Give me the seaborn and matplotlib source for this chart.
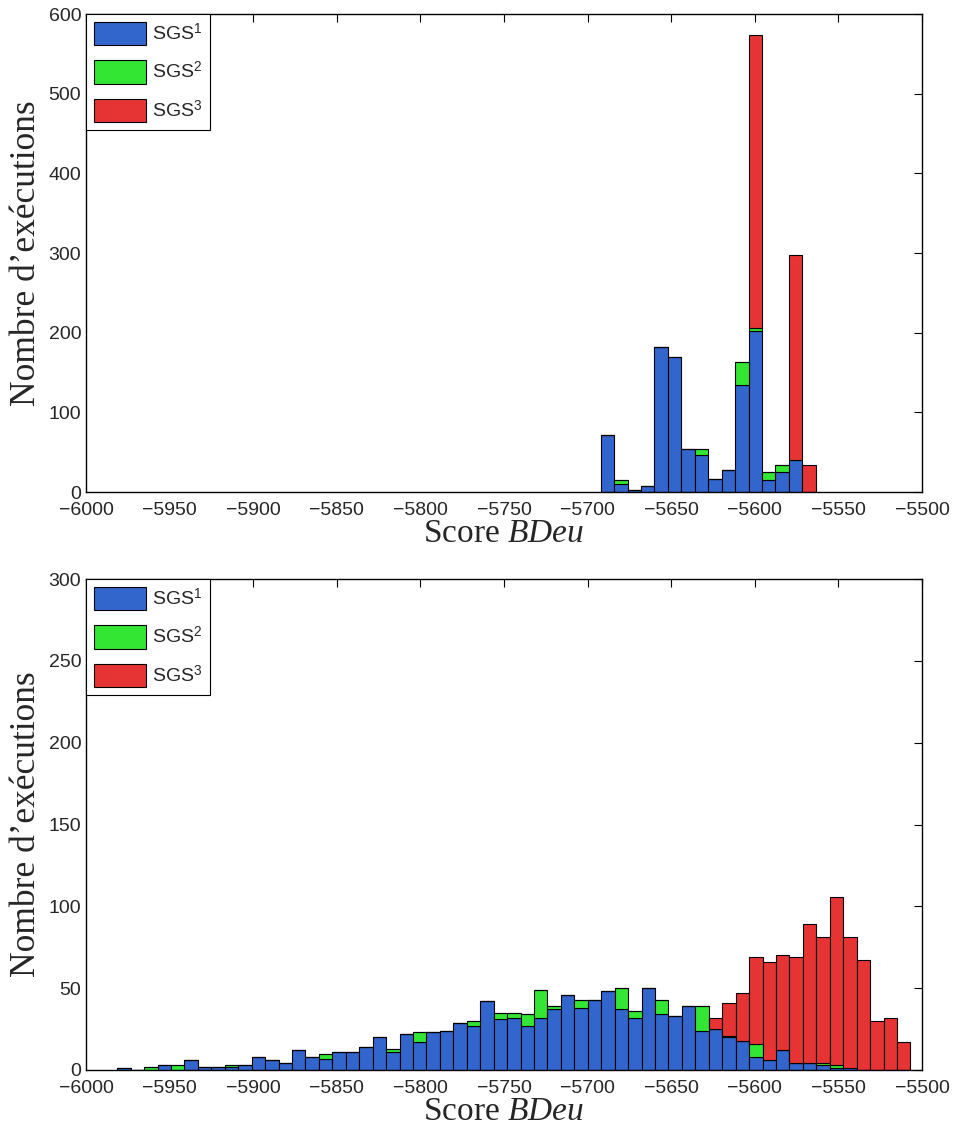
import matplotlib
matplotlib.use("Agg")
import matplotlib.pyplot as plt
from matplotlib.patches import Patch
import seaborn as sns
import pandas as pd

# ---- data ----
series = ["SGS$^1$", "SGS$^2$", "SGS$^3$"]
colors = ["#3366cc", "#33e633", "#e63333"]

# top panel: 16 bins of width ~8.04
top_centers = [-5688.2, -5680.2, -5672.2, -5664.1, -5656.1, -5648.0, -5640.0, -5632.0,
               -5623.9, -5615.9, -5607.8, -5599.8, -5591.8, -5583.7, -5575.7, -5567.6]
top_sgs1 = [71, 10, 3, 8, 182, 170, 54, 47, 16, 27, 134, 202, 15, 25, 40, 0]
top_sgs2 = [0, 5, 0, 0, 0, 0, 0, 7, 0, 0, 29, 4, 10, 9, 0, 0]
top_sgs3 = [0, 0, 0, 0, 0, 0, 0, 0, 0, 0, 0, 368, 0, 0, 258, 34]

# bottom panel: 59 bins of width ~8.04
bot_centers = [-5977.3, -5969.2, -5961.2, -5953.2, -5945.1, -5937.1, -5929.0, -5921.0,
               -5913.0, -5904.9, -5896.9, -5888.8, -5880.8, -5872.8, -5864.7, -5856.7,
               -5848.6, -5840.6, -5832.6, -5824.5, -5816.5, -5808.4, -5800.4, -5792.4,
               -5784.3, -5776.3, -5768.2, -5760.2, -5752.2, -5744.1, -5736.1, -5728.0,
               -5720.0, -5712.0, -5703.9, -5695.9, -5687.8, -5679.8, -5671.8, -5663.7,
               -5655.7, -5647.6, -5639.6, -5631.6, -5623.5, -5615.5, -5607.4, -5599.4,
               -5591.4, -5583.3, -5575.3, -5567.2, -5559.2, -5551.2, -5543.1, -5535.1,
               -5527.0, -5519.0, -5511.0]
bot_sgs1 = [1, 0, 0, 3, 0, 6, 2, 2, 2, 3, 8, 6, 4, 12, 8, 7,
            11, 11, 14, 20, 11, 22, 17, 23, 24, 29, 27, 42, 31, 32, 27, 32,
            37, 46, 38, 43, 48, 37, 32, 50, 34, 33, 39, 24, 25, 20, 18, 8,
            6, 12, 4, 4, 3, 1, 1, 0, 0, 0, 0]
bot_sgs2 = [0, 0, 2, 0, 3, 0, 0, 0, 1, 0, 0, 0, 0, 0, 0, 3,
            0, 0, 0, 0, 2, 0, 6, 0, 0, 0, 3, 0, 4, 3, 7, 17,
            2, 0, 5, 0, 0, 13, 4, 0, 9, 0, 0, 15, 0, 1, 0, 8,
            0, 0, 0, 0, 1, 2, 0, 0, 0, 0, 0]
bot_sgs3 = [0, 0, 0, 0, 0, 0, 0, 0, 0, 0, 0, 0, 0, 0, 0, 0,
            0, 0, 0, 0, 0, 0, 0, 0, 0, 0, 0, 0, 0, 0, 0, 0,
            0, 0, 0, 0, 0, 0, 0, 0, 0, 0, 0, 0, 7, 20, 29, 53,
            60, 58, 65, 85, 77, 103, 80, 67, 30, 32, 17]

x_ticks = [-6000, -5950, -5900, -5850, -5800, -5750, -5700, -5650, -5600, -5550, -5500]
top_yticks = [0, 100, 200, 300, 400, 500, 600]
bot_yticks = [0, 50, 100, 150, 200, 250, 300]


def long_table(centers, s1, s2, s3):
    rows = []
    for name, vals in zip(series, [s1, s2, s3]):
        for c, v in zip(centers, vals):
            if v > 0:
                rows.append({"score": c, "count": v, "series": name})
    return pd.DataFrame(rows)


sns.set_style("white")
plt.rcParams["font.family"] = ["Liberation Sans", "DejaVu Sans"]
plt.rcParams["mathtext.fontset"] = "custom"
plt.rcParams["mathtext.rm"] = "Liberation Sans"
plt.rcParams["mathtext.it"] = "Liberation Serif:italic"
plt.rcParams["xtick.direction"] = "in"
plt.rcParams["ytick.direction"] = "in"
plt.rcParams["xtick.top"] = True
plt.rcParams["ytick.right"] = True

fig = plt.figure(figsize=(9.56, 11.3), dpi=100)
ax_top = fig.add_axes([0.090, 0.5646, 0.8745, 0.4230])
ax_bot = fig.add_axes([0.090, 0.0531, 0.8745, 0.4345])

panels = [
    (ax_top, long_table(top_centers, top_sgs1, top_sgs2, top_sgs3), 16,
     (top_centers[0] - 4.02, top_centers[-1] + 4.02), top_yticks),
    (ax_bot, long_table(bot_centers, bot_sgs1, bot_sgs2, bot_sgs3), 59,
     (bot_centers[0] - 4.02, bot_centers[-1] + 4.02), bot_yticks),
]

for ax, df, nbins, brange, yticks in panels:
    # seaborn stacks the last hue level at the bottom
    sns.histplot(data=df, x="score", weights="count", hue="series",
                 hue_order=series[::-1], palette=colors[::-1],
                 multiple="stack", bins=nbins, binrange=brange,
                 edgecolor="black", linewidth=0.8, alpha=1, legend=False, ax=ax)
    ax.set_xlim(-6000, -5500)
    ax.set_ylim(yticks[0], yticks[-1])
    ax.set_xticks(x_ticks)
    ax.set_yticks(yticks)
    ax.tick_params(axis="both", labelsize=14, length=6, width=0.8, color="black")
    ax.tick_params(axis="x", pad=7)
    for sp in ax.spines.values():
        sp.set_color("black")
        sp.set_linewidth(1.0)
    ax.set_xlabel(r"Score $\mathit{BDeu}$", family="Liberation Serif", fontsize=24, labelpad=0)
    ax.set_ylabel("Nombre d’exécutions", family="Liberation Serif", fontsize=25.5, labelpad=4)
    handles = [Patch(facecolor=c, edgecolor="black", linewidth=0.8) for c in colors]
    leg = ax.legend(handles, series, loc="upper left", fontsize=14, fancybox=False,
                    framealpha=1, edgecolor="black", borderaxespad=0,
                    handlelength=2.7, handleheight=1.45, labelspacing=0.8,
                    handletextpad=0.3, borderpad=0.4)
    leg.get_frame().set_linewidth(0.8)

fig.savefig("out.png", dpi=100)
